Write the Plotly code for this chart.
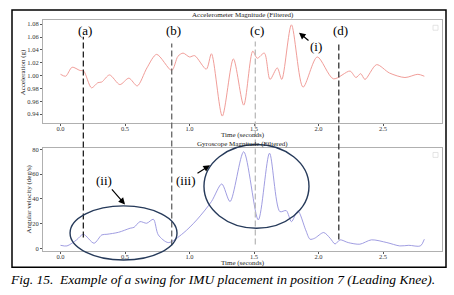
import plotly.graph_objects as go

# ---- data ----
acc_t = [0.00, 0.04, 0.09, 0.15, 0.18, 0.24, 0.29, 0.32, 0.38, 0.46, 0.53, 0.595, 0.67, 0.745,
         0.862, 0.91, 0.95, 1.00, 1.04, 1.13, 1.17, 1.254, 1.34, 1.42, 1.49, 1.525, 1.58,
         1.624, 1.68, 1.715, 1.79, 1.88, 1.99, 2.115, 2.244, 2.29, 2.327, 2.36, 2.45,
         2.55, 2.67, 2.77, 2.82]
acc_v = [1.002, 0.999, 1.013, 1.008, 1.007, 0.981, 0.989, 0.990, 1.001, 0.986, 0.996, 0.984, 1.012, 1.033,
         1.008, 1.030, 1.035, 1.029, 1.031, 1.010, 1.034, 0.937, 1.026, 0.954, 1.038, 1.027, 1.035,
         0.994, 1.012, 0.994, 1.079, 0.982, 1.029, 0.995, 1.007, 0.997, 1.003, 0.994, 1.017,
         1.004, 0.997, 1.002, 0.999]

gyr_t = [0.00, 0.05, 0.125, 0.177, 0.26, 0.32, 0.36, 0.45, 0.54, 0.57, 0.616, 0.668, 0.72, 0.758,
         0.836, 0.95, 1.056, 1.17, 1.25, 1.314, 1.42, 1.533, 1.62, 1.70, 1.75, 1.79, 1.84,
         1.90, 1.934, 1.97, 2.04, 2.09, 2.128, 2.167, 2.23, 2.32, 2.41, 2.53, 2.63, 2.70,
         2.79, 2.82]
gyr_v = [2.5, 2.0, 6.9, 11.4, 4.2, 10.9, 11.4, 13.0, 16.3, 17.0, 21.6, 20.3, 23.5, 10.9,
         4.7, 12.2, 23.0, 37.8, 52.0, 37.8, 78.0, 23.0, 76.8, 29.7, 30.5, 21.6, 30.2,
         15.0, 7.4, 8.2, 12.8, 8.2, 3.6, 6.9, 4.7, 3.4, 6.9, 4.7, 2.0, 2.5,
         2.0, 7.4]

x_ticks = [0.0, 0.5, 1.0, 1.5, 2.0, 2.5]
x_tick_labels = ["0.0", "0.5", "1.0", "1.5", "2.0", "2.5"]
acc_ticks = [0.94, 0.96, 0.98, 1.00, 1.02, 1.04, 1.06, 1.08]
acc_tick_labels = ["0.94", "0.96", "0.98", "1.00", "1.02", "1.04", "1.06", "1.08"]
gyr_ticks = [0, 20, 40, 60, 80]
gyr_tick_labels = ["0", "20", "40", "60", "80"]

event_times = [0.177, 0.862, 1.51, 2.157]
event_labels = ["(a)", "(b)", "(c)", "(d)"]

W, H = 454, 295
def px(x):
    return x / W
def py(y):
    return 1 - y / H

SERIF = "Liberation Serif, Times New Roman, serif"
fig = go.Figure()
fig.add_trace(go.Scatter(x=acc_t, y=acc_v, mode="lines", line=dict(color="#ee928d", width=0.9, shape="spline", smoothing=0.8),
                         xaxis="x", yaxis="y", showlegend=False))
fig.add_trace(go.Scatter(x=gyr_t, y=gyr_v, mode="lines", line=dict(color="#9592de", width=0.9, shape="spline", smoothing=0.8),
                         xaxis="x2", yaxis="y2", showlegend=False))

xr = [-0.1357, 2.957]
tickfont = dict(family=SERIF, size=6.5, color="#333")
axcommon = dict(showgrid=False, zeroline=False, showline=True, linecolor="#b0b0b0", linewidth=1, mirror=True,
                ticks="outside", ticklen=2, tickcolor="#555", tickwidth=0.8, tickfont=tickfont)
fig.update_layout(
    width=W, height=H, margin=dict(l=0, r=0, t=0, b=0),
    paper_bgcolor="white", plot_bgcolor="white",
    xaxis=dict(domain=[px(43), px(442)], range=xr, anchor="y", tickvals=x_ticks, ticktext=x_tick_labels,
               ticklabelstandoff=-3, **axcommon),
    yaxis=dict(domain=[py(122.7), py(18)], range=[0.9255, 1.0868], anchor="x", tickvals=acc_ticks,
               ticktext=acc_tick_labels, **axcommon),
    xaxis2=dict(domain=[px(43), px(442)], range=xr, anchor="y2", tickvals=x_ticks, ticktext=x_tick_labels,
                ticklabelstandoff=-3, **axcommon),
    yaxis2=dict(domain=[py(251.7), py(147)], range=[-2.2, 81.4], anchor="x2", tickvals=gyr_ticks,
                ticktext=gyr_tick_labels, **axcommon),
)

shapes = []
# outer frame
shapes.append(dict(type="rect", xref="paper", yref="paper", x0=px(12), x1=px(446), y0=py(268), y1=py(8),
                   line=dict(color="black", width=1.5)))
# empty legend boxes
for yt in (23.5, 152):
    shapes.append(dict(type="rect", xref="paper", yref="paper", x0=px(433), x1=px(438), y0=py(yt + 5), y1=py(yt),
                       line=dict(color="#dddddd", width=0.8)))
# event lines
line_styles = [("#222222", 35, 238), ("#666666", 42, 246), ("#bbbbbb", 40, 245), ("#333333", 40, 240)]
for t, (col, ytop, ybot) in zip(event_times, line_styles):
    shapes.append(dict(type="line", xref="x", yref="paper", x0=t, x1=t, y0=py(ybot), y1=py(ytop),
                       line=dict(color=col, width=1.3, dash="6px,3px")))
# ellipses
shapes.append(dict(type="circle", xref="x", yref="paper", x0=0.074, x1=0.903, y0=py(260.7), y1=py(206),
                   line=dict(color="#263a5a", width=1.4)))
shapes.append(dict(type="circle", xref="x", yref="paper", x0=1.112, x1=1.926, y0=py(228.5), y1=py(144),
                   line=dict(color="#263a5a", width=1.4)))
fig.update_layout(shapes=shapes)

ann = []
lblfont = dict(family=SERIF, size=13, color="black")
for t, lab in zip(event_times, event_labels):
    ann.append(dict(x=t, xref="x", y=py(28.5), yref="paper", text=lab, showarrow=False, font=lblfont,
                    xanchor="center", yanchor="middle", xshift=1.5))
# subplot titles
small = dict(family=SERIF, size=7, color="#222")
ann.append(dict(x=px(242.5), y=py(13.5), xref="paper", yref="paper", text="Accelerometer Magnitude (Filtered)",
                showarrow=False, font=small, xanchor="center", yanchor="middle"))
ann.append(dict(x=px(242.5), y=py(143.5), xref="paper", yref="paper", text="Gyroscope Magnitude (Filtered)",
                showarrow=False, font=small, xanchor="center", yanchor="middle"))
ann.append(dict(x=px(242.5), y=py(134.5), xref="paper", yref="paper", text="Time (seconds)",
                showarrow=False, font=small, xanchor="center", yanchor="middle"))
ann.append(dict(x=px(242.5), y=py(263.5), xref="paper", yref="paper", text="Time (seconds)",
                showarrow=False, font=small, xanchor="center", yanchor="middle"))
ann.append(dict(x=px(23), y=py(71), xref="paper", yref="paper", text="Acceleration (g)", textangle=-90,
                showarrow=False, font=small, xanchor="center", yanchor="middle"))
ann.append(dict(x=px(29), y=py(199.5), xref="paper", yref="paper", text="Angular velocity (deg/s)", textangle=-90,
                showarrow=False, font=small, xanchor="center", yanchor="middle"))
# arrows
arrow = dict(showarrow=True, arrowhead=2, arrowsize=1.1, arrowwidth=1.2, arrowcolor="black", font=lblfont,
             xref="paper", yref="paper")
ann.append(dict(x=px(299), y=py(31), ax=17, ay=14, text="(i)", **arrow))
ann.append(dict(x=px(125), y=py(204.5), ax=-21, ay=-24, text="(ii)", **arrow))
ann.append(dict(x=px(210), y=py(165), ax=-24, ay=15, text="(iii)", **arrow))
# caption
ann.append(dict(x=px(8), y=py(280), xref="paper", yref="paper",
                text="<i>Fig. 15.  Example of a swing for IMU placement in position 7 (Leading Knee).</i>",
                showarrow=False, font=dict(family=SERIF, size=13.5, color="black"), xanchor="left", yanchor="middle"))
fig.update_layout(annotations=ann)

fig.write_html("out.html", config={"displayModeBar": False},
               post_script="document.body.style.margin='0';document.body.style.padding='0';")
